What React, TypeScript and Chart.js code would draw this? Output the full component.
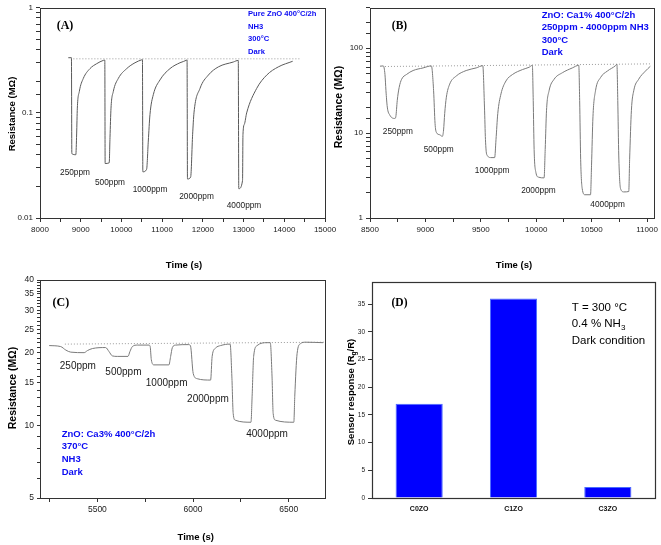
import React, { useEffect, useRef } from 'react';
import { Chart, registerables } from 'chart.js';

Chart.register(...registerables);

// ---------------- Panel A : pure ZnO ----------------
const A_TIME = [8695, 8772, 8782, 8880, 8900, 8917, 8966, 9064, 9228, 9392, 9556, 9592,
  9600, 9700, 9719, 9744, 9801, 9924, 10130, 10333, 10498, 10516,
  10526, 10618, 10660, 10701, 10783, 10947, 11193, 11438, 11603, 11612,
  11622, 11700, 11749, 11782, 11930, 12135, 12380, 12748, 12870,
  12882, 12975, 12985, 13020, 13076, 13322, 13568, 13853, 14206];
const A_RES = [0.335, 0.335, 0.041, 0.040, 0.063, 0.111, 0.16, 0.213, 0.264, 0.294, 0.316, 0.318,
  0.033, 0.0335, 0.058, 0.111, 0.16, 0.213, 0.264, 0.30, 0.32, 0.321,
  0.0275, 0.029, 0.054, 0.0965, 0.149, 0.206, 0.264, 0.30, 0.318, 0.32,
  0.0235, 0.0245, 0.0626, 0.1, 0.171, 0.229, 0.274, 0.305, 0.316,
  0.019, 0.0228, 0.062, 0.078, 0.1, 0.171, 0.229, 0.274, 0.31];
const A_BASE_TIME = [8820, 14420];
const A_BASE_RES = [0.327, 0.327];
const A_PPM = ['250ppm', '500ppm', '1000ppm', '2000ppm', '4000ppm'];
const A_PPM_TIME = [8860, 9719, 10702, 11844, 13010];
const A_PPM_RES = [0.0272, 0.0219, 0.01845, 0.01585, 0.01305];
const A_NOTE = ['Pure ZnO 400°C/2h', 'NH3', '300°C', 'Dark'];
const A_X_TICKS = [8000, 8500, 9000, 9500, 10000, 10500, 11000, 11500, 12000, 12500, 13000, 13500, 14000, 14500, 15000];
const A_X_LABELS = [8000, 9000, 10000, 11000, 12000, 13000, 14000, 15000];
const A_Y_LABELS = [0.01, 0.1, 1];

// ---------------- Panel B : ZnO Ca1% ----------------
const B_TIME = [8590, 8620, 8635, 8644, 8656, 8679, 8724, 8733, 8746, 8763, 8785, 8830, 8889, 8979, 9054,
  9074, 9087, 9099, 9129, 9153, 9164, 9174, 9189, 9219, 9278, 9368, 9458, 9518,
  9533, 9542, 9553, 9592, 9625, 9637, 9653, 9682, 9727, 9787, 9877, 9936, 9965,
  9973, 9981, 9997, 10020, 10071, 10081, 10093, 10116, 10161, 10236, 10326, 10384,
  10392, 10401, 10415, 10440, 10490, 10499, 10512, 10535, 10580, 10641, 10716, 10728,
  10736, 10745, 10761, 10790, 10835, 10843, 10859, 10880, 10924, 10985, 11030];
const B_RES = [61.5, 62.0, 49.2, 31.6, 20.3, 16.3, 14.9, 15.6, 24.3, 34.5, 43.1, 49.2, 54.7, 58.7, 62.0,
  31.6, 13.0, 10.2, 9.57, 9.16, 10.9, 17.0, 26.5, 37.8, 47.1, 54.7, 58.7, 62.3,
  20.3, 8.38, 5.62, 5.15, 5.15, 8.38, 17.0, 29.0, 41.2, 49.2, 56.2, 59.8, 63.0,
  24.3, 6.42, 3.45, 3.03, 2.97, 6.42, 18.6, 31.6, 43.1, 51.5, 58.7, 63.0,
  24.3, 4.92, 2.22, 1.88, 1.88, 4.12, 15.6, 31.6, 45.1, 53.8, 62.5, 65.0,
  24.3, 5.38, 2.22, 2.03, 2.05, 4.92, 18.6, 31.6, 43.1, 53.8, 61.4];
const B_BASE_TIME = [8635, 11030];
const B_BASE_RES = [61.0, 65.5];
const B_PPM = ['250ppm', '500ppm', '1000ppm', '2000ppm', '4000ppm'];
const B_PPM_TIME = [8751, 9120, 9602, 10020, 10644];
const B_PPM_RES = [10.45, 6.31, 3.61, 2.12, 1.45];
const B_NOTE = ['ZnO: Ca1% 400°C/2h', '250ppm - 4000ppm NH3', '300°C', 'Dark'];
const B_X_TICKS = [8500, 8750, 9000, 9250, 9500, 9750, 10000, 10250, 10500, 10750, 11000];
const B_X_LABELS = [8500, 9000, 9500, 10000, 10500, 11000];
const B_Y_LABELS = [1, 10, 100];

// ---------------- Panel C : ZnO Ca3% ----------------
const C_TIME = [5248, 5308, 5335, 5361, 5431, 5448, 5474, 5543,
  5561, 5578, 5604, 5660, 5670, 5683, 5709, 5770,
  5776, 5782, 5796, 5874, 5883, 5892, 5909, 5978,
  5987, 6001, 6022, 6092, 6100, 6118, 6144, 6194,
  6203, 6210, 6221, 6303, 6309, 6317, 6335, 6387, 6404,
  6413, 6419, 6431, 6527, 6532, 6544, 6562, 6588, 6680];
const C_RES = [21.4, 21.2, 20.5, 20.1, 20.0, 20.4, 20.8, 21.0,
  20.2, 19.4, 19.3, 19.3, 20.2, 21.2, 21.5, 21.5,
  21.2, 18.7, 17.8, 17.8, 19.3, 21.0, 21.5, 21.6,
  21.3, 16.4, 15.6, 15.4, 19.3, 20.9, 21.4, 21.7,
  16.0, 11.2, 10.5, 10.3, 13.2, 19.3, 21.4, 22.0, 22.0,
  16.0, 11.2, 10.5, 10.3, 13.2, 19.8, 21.8, 22.1, 22.0];
const C_BASE_TIME = [5330, 6690];
const C_BASE_RES = [21.7, 22.1];
const C_PPM = ['250ppm', '500ppm', '1000ppm', '2000ppm', '4000ppm'];
const C_PPM_TIME = [5398, 5636, 5862, 6078, 6387];
const C_PPM_RES = [17.6, 16.6, 15.0, 12.8, 9.2];
const C_NOTE = ['ZnO: Ca3% 400°C/2h', '370°C', 'NH3', 'Dark'];
const C_X_TICKS = [5250, 5500, 5750, 6000, 6250, 6500];
const C_X_LABELS = [5500, 6000, 6500];
const C_Y_TICKS = [5, 6, 7, 8, 9, 10, 11, 12, 13, 14, 15, 16, 17, 18, 19, 20, 21, 22, 23, 24, 25,
  26, 27, 28, 29, 30, 31, 32, 33, 34, 35, 36, 37, 38, 39, 40];
const C_Y_LABELS = [5, 10, 15, 20, 25, 30, 35, 40];

// ---------------- Panel D : sensor response ----------------
const D_CATS = ['C0ZO', 'C1ZO', 'C3ZO'];
const D_VALUES = [17, 36, 2];
const D_Y_TICKS = [0, 5, 10, 15, 20, 25, 30, 35];

// ---------------- helpers ----------------
const SANS = 'Arial, "Liberation Sans", Helvetica, sans-serif';
const SERIF = '"Times New Roman", "Liberation Serif", Times, serif';
const BLUE = '#0a0af2';

function pts(xs: number[], ys: number[]) {
  return xs.map((x, i) => ({ x, y: ys[i] }));
}

function labelOf(list: number[]) {
  return (v: any) => {
    const n = Number(v);
    const hit = list.find((l) => (l === 0 ? Math.abs(n) < 1e-9 : Math.abs(n / l - 1) < 1e-6));
    return hit === undefined ? '' : String(hit);
  };
}

function setTicks(list: number[]) {
  return (s: any) => { s.ticks = list.map((v) => ({ value: v })); };
}

function tickAxis(size: number, extra: any = {}) {
  const { ticks, grid, ...rest } = extra;
  return {
    border: { display: false },
    grid: { drawOnChartArea: false, drawTicks: true, tickLength: 4, tickColor: '#333', tickWidth: 1, ...(grid || {}) },
    ...rest,
    ticks: { font: { size, family: SANS }, color: '#1a1a1a', padding: 3, autoSkip: false, maxRotation: 0, minRotation: 0, ...(ticks || {}) },
  };
}

const overlay = {
  id: 'overlay',
  afterDraw(chart: any, _args: any, opts: any) {
    const ctx = chart.ctx as CanvasRenderingContext2D;
    const a = chart.chartArea;
    ctx.save();
    ctx.strokeStyle = opts.frame || '#333';
    ctx.lineWidth = opts.frameWidth || 1;
    ctx.strokeRect(Math.round(a.left) + 0.5, Math.round(a.top) + 0.5, Math.round(a.right - a.left), Math.round(a.bottom - a.top));
    for (const it of opts.items || []) {
      let x = it.x;
      let y = it.y;
      if (it.data) {
        x = chart.scales.x.getPixelForValue(it.x);
        y = chart.scales.y.getPixelForValue(it.y);
      }
      const parts = typeof it.parts === 'string' ? [{ t: it.parts }] : it.parts;
      const fam = it.family || SANS;
      const w = it.weight || 'normal';
      const fontFor = (p: any) => `${w} ${p.sub ? it.size * 0.7 : it.size}px ${fam}`;
      let total = 0;
      for (const p of parts) {
        ctx.font = fontFor(p);
        total += ctx.measureText(p.t).width;
      }
      ctx.save();
      ctx.translate(x, y);
      if (it.rot) ctx.rotate((it.rot * Math.PI) / 180);
      let cx = it.align === 'center' ? -total / 2 : it.align === 'right' ? -total : 0;
      ctx.textBaseline = 'middle';
      ctx.textAlign = 'left';
      ctx.fillStyle = it.color || '#000';
      for (const p of parts) {
        ctx.font = fontFor(p);
        ctx.fillText(p.t, cx, p.sub ? it.size * 0.32 : 0);
        cx += ctx.measureText(p.t).width;
      }
      ctx.restore();
    }
    ctx.restore();
  },
};

function ppmItems(names: string[], ts: number[], rs: number[], size: number) {
  return names.map((t, i) => ({ parts: t, data: true, x: ts[i], y: rs[i], size, align: 'center', color: '#1a1a1a' }));
}

function lineDatasets(tx: number[], ry: number[], bx: number[], by: number[], color: string) {
  return [
    {
      data: pts(tx, ry),
      borderColor: color,
      borderWidth: 1,
      pointRadius: 0,
      cubicInterpolationMode: 'monotone',
      fill: false,
    },
    {
      data: pts(bx, by),
      borderColor: '#9a9a9a',
      borderWidth: 1,
      borderDash: [1, 2],
      pointRadius: 0,
      fill: false,
    },
  ];
}

const baseOpts = {
  responsive: false,
  animation: false,
  devicePixelRatio: 1,
  events: [],
};

function configA() {
  return {
    type: 'line',
    data: { datasets: lineDatasets(A_TIME, A_RES, A_BASE_TIME, A_BASE_RES, '#5a5a5a') },
    options: {
      ...baseOpts,
      layout: { padding: { left: 0, top: 5, right: 20, bottom: 0 } },
      plugins: {
        legend: { display: false },
        tooltip: { enabled: false },
        overlay: {
          items: [
            { parts: '(A)', x: 65, y: 26, size: 12, weight: 'bold', family: SERIF, align: 'center' },
            ...A_NOTE.map((t, i) => ({ parts: t, x: 248, y: 14 + i * 12.6, size: 7.6, weight: 'bold', color: BLUE })),
            { parts: 'Resistance (MΩ)', x: 12, y: 114, rot: -90, size: 9.5, weight: 'bold', align: 'center' },
            { parts: 'Time (s)', x: 184, y: 265, size: 9.5, weight: 'bold', align: 'center' },
            ...ppmItems(A_PPM, A_PPM_TIME, A_PPM_RES, 8.3),
          ],
        },
      },
      scales: {
        x: {
          type: 'linear', min: 8000, max: 15000,
          ...tickAxis(8, { ticks: { callback: labelOf(A_X_LABELS) } }),
          afterBuildTicks: setTicks(A_X_TICKS),
          afterFit: (s: any) => { s.height = 57; },
        },
        y: {
          type: 'logarithmic', min: 0.01, max: 1,
          ...tickAxis(8, { ticks: { callback: labelOf(A_Y_LABELS) } }),
          afterFit: (s: any) => { s.width = 40; },
        },
      },
    },
    plugins: [overlay],
  };
}

function configB() {
  return {
    type: 'line',
    data: { datasets: lineDatasets(B_TIME, B_RES, B_BASE_TIME, B_BASE_RES, '#7a7a7a') },
    options: {
      ...baseOpts,
      layout: { padding: { left: 0, top: 5, right: 6, bottom: 0 } },
      plugins: {
        legend: { display: false },
        tooltip: { enabled: false },
        overlay: {
          items: [
            { parts: '(B)', x: 69.5, y: 26, size: 11.5, weight: 'bold', family: SERIF, align: 'center' },
            ...B_NOTE.map((t, i) => ({ parts: t, x: 211.7, y: 15 + i * 12.45, size: 9.5, weight: 'bold', color: BLUE })),
            { parts: 'Resistance (MΩ)', x: 9, y: 107, rot: -90, size: 10.5, weight: 'bold', align: 'center' },
            { parts: 'Time (s)', x: 184, y: 265, size: 9.5, weight: 'bold', align: 'center' },
            ...ppmItems(B_PPM, B_PPM_TIME, B_PPM_RES, 8.3),
          ],
        },
      },
      scales: {
        x: {
          type: 'linear', min: 8500, max: 11060,
          ...tickAxis(8, { ticks: { callback: labelOf(B_X_LABELS) } }),
          afterBuildTicks: setTicks(B_X_TICKS),
          afterFit: (s: any) => { s.height = 57; },
        },
        y: {
          type: 'logarithmic', min: 1, max: 300,
          ...tickAxis(8, { ticks: { callback: labelOf(B_Y_LABELS) } }),
          afterFit: (s: any) => { s.width = 40; },
        },
      },
    },
    plugins: [overlay],
  };
}

function configC() {
  return {
    type: 'line',
    data: { datasets: lineDatasets(C_TIME, C_RES, C_BASE_TIME, C_BASE_RES, '#7a7a7a') },
    options: {
      ...baseOpts,
      layout: { padding: { left: 0, top: 18, right: 20, bottom: 0 } },
      plugins: {
        legend: { display: false },
        tooltip: { enabled: false },
        overlay: {
          items: [
            { parts: '(C)', x: 60.8, y: 40.7, size: 12, weight: 'bold', family: SERIF, align: 'center' },
            ...C_NOTE.map((t, i) => ({ parts: t, x: 61.7, y: 172 + i * 12.7, size: 9.5, weight: 'bold', color: BLUE })),
            { parts: 'Resistance (MΩ)', x: 13, y: 126, rot: -90, size: 10.5, weight: 'bold', align: 'center' },
            { parts: 'Time (s)', x: 195.7, y: 275, size: 9.5, weight: 'bold', align: 'center' },
            ...ppmItems(C_PPM, C_PPM_TIME, C_PPM_RES, 10),
          ],
        },
      },
      scales: {
        x: {
          type: 'linear', min: 5200, max: 6690,
          ...tickAxis(8.5, { ticks: { callback: labelOf(C_X_LABELS) } }),
          afterBuildTicks: setTicks(C_X_TICKS),
          afterFit: (s: any) => { s.height = 47; },
        },
        y: {
          type: 'logarithmic', min: 5, max: 40,
          ...tickAxis(8.5, { grid: { tickLength: 3 }, ticks: { callback: labelOf(C_Y_LABELS) } }),
          afterBuildTicks: setTicks(C_Y_TICKS),
          afterFit: (s: any) => { s.width = 40; },
        },
      },
    },
    plugins: [overlay],
  };
}

function configD() {
  return {
    type: 'bar',
    data: {
      labels: D_CATS,
      datasets: [
        {
          data: D_VALUES,
          backgroundColor: '#0000ff',
          borderColor: '#4a6cff',
          borderWidth: 1,
          barPercentage: 0.5,
          categoryPercentage: 1,
        },
      ],
    },
    options: {
      ...baseOpts,
      layout: { padding: { left: 0, top: 20, right: 6, bottom: 0 } },
      plugins: {
        legend: { display: false },
        tooltip: { enabled: false },
        overlay: {
          frameWidth: 1.2,
          items: [
            { parts: '(D)', x: 69.5, y: 41, size: 11.5, weight: 'bold', family: SERIF, align: 'center' },
            { parts: 'T = 300 °C', x: 241.7, y: 46, size: 11.5 },
            { parts: [{ t: '0.4 % NH' }, { t: '3', sub: true }], x: 241.7, y: 62, size: 11.5 },
            { parts: 'Dark condition', x: 241.7, y: 79, size: 11.5 },
            { parts: [{ t: 'Sensor response (R' }, { t: 'g', sub: true }, { t: '/R)' }], x: 21, y: 130, rot: -90, size: 9.5, weight: 'bold', align: 'center' },
          ],
        },
      },
      scales: {
        x: {
          type: 'category',
          border: { display: false },
          grid: { display: false, drawTicks: false },
          ticks: { font: { size: 7, weight: 'bold', family: SANS }, color: '#111', padding: 7, maxRotation: 0, minRotation: 0 },
          afterFit: (s: any) => { s.height = 47; },
        },
        y: {
          type: 'linear', min: 0, max: 39,
          ...tickAxis(6.5, { ticks: { callback: labelOf(D_Y_TICKS) } }),
          afterBuildTicks: setTicks(D_Y_TICKS),
          afterFit: (s: any) => { s.width = 42; },
        },
      },
    },
    plugins: [overlay],
  };
}

function ChartCanvas({ left, top, width, height, make }: any) {
  const ref = useRef<HTMLCanvasElement>(null);
  useEffect(() => {
    const chart = new Chart(ref.current as HTMLCanvasElement, make() as any);
    return () => chart.destroy();
  }, []);
  return (
    <canvas
      ref={ref}
      width={width}
      height={height}
      style={{ position: 'absolute', left, top, width, height }}
    />
  );
}

export default function App() {
  return (
    <div style={{ position: 'fixed', left: 0, top: 0, width: 661, height: 545, background: '#fff', overflow: 'hidden' }}>
      <ChartCanvas left={0} top={0} width={345} height={275} make={configA} />
      <ChartCanvas left={330} top={0} width={331} height={275} make={configB} />
      <ChartCanvas left={0} top={262} width={345} height={283} make={configC} />
      <ChartCanvas left={330} top={262} width={331} height={283} make={configD} />
    </div>
  );
}
